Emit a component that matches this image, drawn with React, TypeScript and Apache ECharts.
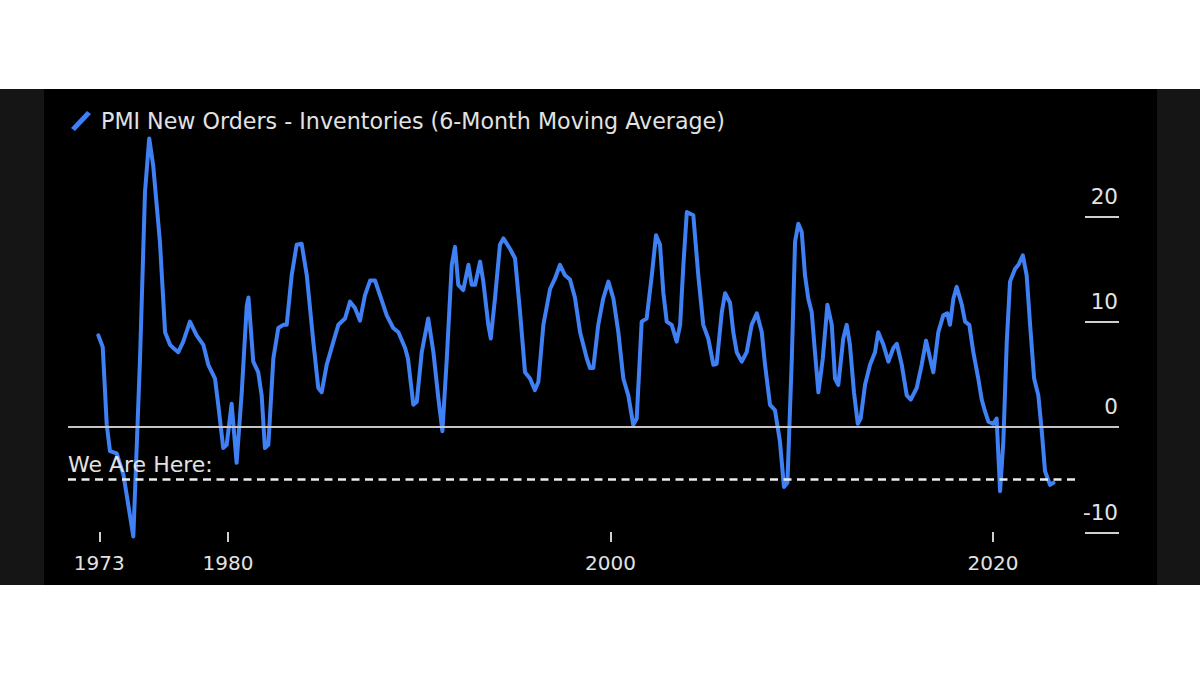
import React, { useEffect, useRef } from "react";
import * as echarts from "echarts";

const SERIES_NAME = "PMI New Orders - Inventories (6-Month Moving Average)";

const YEARS = [
  1973.22, 1973.45, 1973.66, 1973.83, 1974.18, 1974.53, 1975.05, 1975.4, 1975.66, 1975.88,
  1976.09, 1976.44, 1976.71, 1976.97, 1977.14, 1977.4, 1977.66, 1978.01, 1978.36, 1978.71,
  1978.97, 1979.32, 1979.49, 1979.75, 1979.93, 1980.19, 1980.45, 1980.72, 1980.98, 1981.07,
  1981.32, 1981.58, 1981.76, 1981.93, 1982.11, 1982.37, 1982.63, 1982.89, 1983.07, 1983.33,
  1983.59, 1983.85, 1984.12, 1984.46, 1984.72, 1984.9, 1985.16, 1985.51, 1985.77, 1986.12,
  1986.38, 1986.64, 1986.9, 1987.16, 1987.43, 1987.69, 1987.95, 1988.3, 1988.64, 1988.91,
  1989.26, 1989.41, 1989.69, 1989.87, 1990.13, 1990.47, 1990.74, 1991.0, 1991.21, 1991.44,
  1991.7, 1991.87, 1992.04, 1992.3, 1992.57, 1992.74, 1992.92, 1993.18, 1993.35, 1993.61,
  1993.74, 1993.96, 1994.22, 1994.4, 1994.75, 1995.01, 1995.27, 1995.53, 1995.79, 1996.05,
  1996.23, 1996.49, 1996.84, 1997.1, 1997.36, 1997.62, 1997.88, 1998.14, 1998.41, 1998.76,
  1998.93, 1999.1, 1999.36, 1999.62, 1999.89, 2000.15, 2000.41, 2000.67, 2000.93, 2001.19,
  2001.37, 2001.63, 2001.89, 2002.16, 2002.38, 2002.59, 2002.76, 2002.94, 2003.2, 2003.46,
  2003.64, 2003.81, 2003.99, 2004.33, 2004.59, 2004.85, 2005.11, 2005.38, 2005.55, 2005.82,
  2005.99, 2006.25, 2006.42, 2006.6, 2006.86, 2007.12, 2007.38, 2007.65, 2007.91, 2008.08,
  2008.34, 2008.6, 2008.86, 2009.07, 2009.25, 2009.48, 2009.65, 2009.82, 2010.0, 2010.17,
  2010.34, 2010.52, 2010.69, 2010.87, 2011.1, 2011.34, 2011.57, 2011.74, 2011.91, 2012.17,
  2012.35, 2012.52, 2012.73, 2012.93, 2013.08, 2013.31, 2013.57, 2013.83, 2014.0, 2014.27,
  2014.53, 2014.79, 2014.97, 2015.23, 2015.49, 2015.7, 2016.01, 2016.27, 2016.5, 2016.71,
  2016.88, 2017.14, 2017.4, 2017.61, 2017.75, 2017.93, 2018.1, 2018.37, 2018.54, 2018.76,
  2018.97, 2019.23, 2019.41, 2019.58, 2019.76, 2020.02, 2020.19, 2020.37, 2020.54, 2020.72,
  2020.89, 2021.15, 2021.33, 2021.56, 2021.76, 2021.94, 2022.15, 2022.37, 2022.55, 2022.72,
  2022.98, 2023.16,
];

const VALUES = [
  8.7, 7.6, 0.2, -2.3, -2.5, -4.5, -10.4, 6.5, 22.3, 27.4,
  24.8, 17.6, 9.0, 7.8, 7.5, 7.1, 8.1, 10.0, 8.7, 7.8,
  5.9, 4.6, 2.1, -2.0, -1.7, 2.2, -3.4, 3.3, 11.5, 12.3,
  6.2, 5.2, 3.0, -2.0, -1.7, 6.5, 9.4, 9.7, 9.7, 14.4,
  17.3, 17.4, 14.4, 8.1, 3.7, 3.3, 5.9, 8.1, 9.7, 10.3,
  11.9, 11.3, 10.1, 12.5, 13.9, 13.9, 12.5, 10.6, 9.4, 9.0,
  7.5, 6.5, 2.1, 2.4, 7.1, 10.3, 7.1, 2.7, -0.4, 6.5,
  15.4, 17.1, 13.5, 13.0, 15.4, 13.5, 13.5, 15.7, 13.8, 9.7,
  8.4, 12.2, 17.3, 17.9, 16.9, 16.0, 10.9, 5.2, 4.6, 3.5,
  4.3, 9.7, 13.1, 14.1, 15.4, 14.4, 14.0, 12.3, 9.0, 6.5,
  5.6, 5.6, 9.7, 12.2, 13.8, 12.2, 9.0, 4.6, 3.0, 0.2,
  0.8, 10.0, 10.3, 14.4, 18.2, 17.3, 12.8, 10.0, 9.7, 8.1,
  9.7, 15.4, 20.4, 20.1, 14.4, 9.7, 8.4, 5.9, 6.0, 10.9,
  12.7, 11.8, 9.0, 7.1, 6.2, 7.1, 9.7, 10.8, 9.0, 5.9,
  2.1, 1.6, -1.4, -5.7, -5.3, 6.5, 17.6, 19.3, 18.5, 14.4,
  12.2, 10.9, 7.1, 3.3, 6.5, 11.6, 9.7, 4.6, 4.0, 8.4,
  9.7, 7.8, 3.3, 0.3, 0.8, 4.0, 5.9, 7.1, 9.0, 7.8,
  6.2, 7.5, 7.9, 5.9, 3.0, 2.6, 3.7, 5.9, 8.2, 6.5,
  5.2, 9.0, 10.6, 10.8, 9.7, 12.2, 13.3, 11.6, 10.0, 9.7,
  7.1, 4.6, 2.6, 1.5, 0.5, 0.3, 0.8, -6.1, -1.4, 8.1,
  13.8, 15.0, 15.4, 16.3, 14.4, 9.7, 4.6, 3.0, -0.4, -4.2,
  -5.5, -5.3,
];

const X_TICKS = [1973.27, 1980, 2000, 2020];
const Y_TICKS = [-10, 0, 10, 20];
const WE_ARE_HERE = -5;
const WE_ARE_HERE_END = 2024.55;
const X_MIN = 1971.634;
const X_MAX = 2026.588;
const Y_MIN = -10.92;
const Y_MAX = 30;

const FONT = "'DejaVu Sans', Verdana, sans-serif";
const TEXT = "#e2e2e2";
const BLUE = "#3f80f4";

export default function App() {
  const ref = useRef<HTMLDivElement>(null);

  useEffect(() => {
    if (!ref.current) return;
    const chart = echarts.init(ref.current, null, { renderer: "svg" });
    const data = YEARS.map((y, i) => [y, VALUES[i]]);
    chart.setOption({
      animation: false,
      backgroundColor: "transparent",
      grid: { left: 68, right: 81, top: 111, bottom: 133 },
      legend: {
        left: 66,
        top: 105,
        itemWidth: 22,
        itemHeight: 20,
        icon: "path://M0,17 L16,0 L20,3 L4,20 Z",
        textStyle: { color: TEXT, fontSize: 22.2, fontFamily: FONT, padding: [0, 0, 0, 4] },
        data: [{ name: SERIES_NAME, itemStyle: { color: BLUE } }],
      },
      xAxis: {
        type: "value",
        min: X_MIN,
        max: X_MAX,
        axisLine: { show: false, onZero: false },
        splitLine: { show: false },
        axisTick: {
          show: true,
          inside: true,
          length: 10,
          customValues: X_TICKS,
          lineStyle: { color: "#cfcfcf", width: 2 },
        },
        axisLabel: {
          customValues: X_TICKS,
          formatter: (v: number) => String(Math.floor(v)),
          color: TEXT,
          fontSize: 20,
          fontFamily: FONT,
          margin: 11,
        },
      },
      yAxis: {
        type: "value",
        position: "right",
        min: Y_MIN,
        max: Y_MAX,
        axisLine: { show: false },
        splitLine: { show: false },
        axisTick: {
          show: true,
          inside: true,
          length: 34,
          customValues: Y_TICKS,
          lineStyle: { color: "#cfcfcf", width: 2 },
        },
        axisLabel: {
          customValues: Y_TICKS,
          color: TEXT,
          fontSize: 21.5,
          fontFamily: FONT,
          align: "right",
          verticalAlign: "bottom",
          margin: -1,
          padding: [0, 0, 9, 0],
        },
      },
      series: [
        {
          name: SERIES_NAME,
          type: "line",
          data,
          symbol: "none",
          clip: false,
          color: BLUE,
          lineStyle: { color: BLUE, width: 4, join: "round", cap: "round" },
          z: 3,
          markLine: {
            silent: true,
            symbol: "none",
            animation: false,
            data: [
              {
                yAxis: 0,
                label: { show: false },
                lineStyle: { color: "#c4c4c4", width: 2, type: "solid" },
              },
              [
                {
                  coord: [X_MIN, WE_ARE_HERE],
                  label: {
                    show: true,
                    position: "insideStartTop",
                    formatter: "We Are Here:",
                    color: TEXT,
                    fontSize: 22,
                    fontFamily: FONT,
                    distance: [0, 4],
                  },
                  lineStyle: { color: "#ececec", width: 2.5, type: [8, 5.5] },
                },
                { coord: [WE_ARE_HERE_END, WE_ARE_HERE] },
              ],
            ],
          },
        },
      ],
    });
    return () => chart.dispose();
  }, []);

  return (
    <div style={{ position: "fixed", left: 0, top: 0, width: 1200, height: 675, background: "#ffffff" }}>
      <div style={{ position: "absolute", left: 0, top: 89, width: 1200, height: 496, background: "#151515" }} />
      <div style={{ position: "absolute", left: 44, top: 89, width: 1113, height: 496, background: "#000000" }} />
      <div ref={ref} style={{ position: "absolute", left: 0, top: 0, width: 1200, height: 675 }} />
    </div>
  );
}
